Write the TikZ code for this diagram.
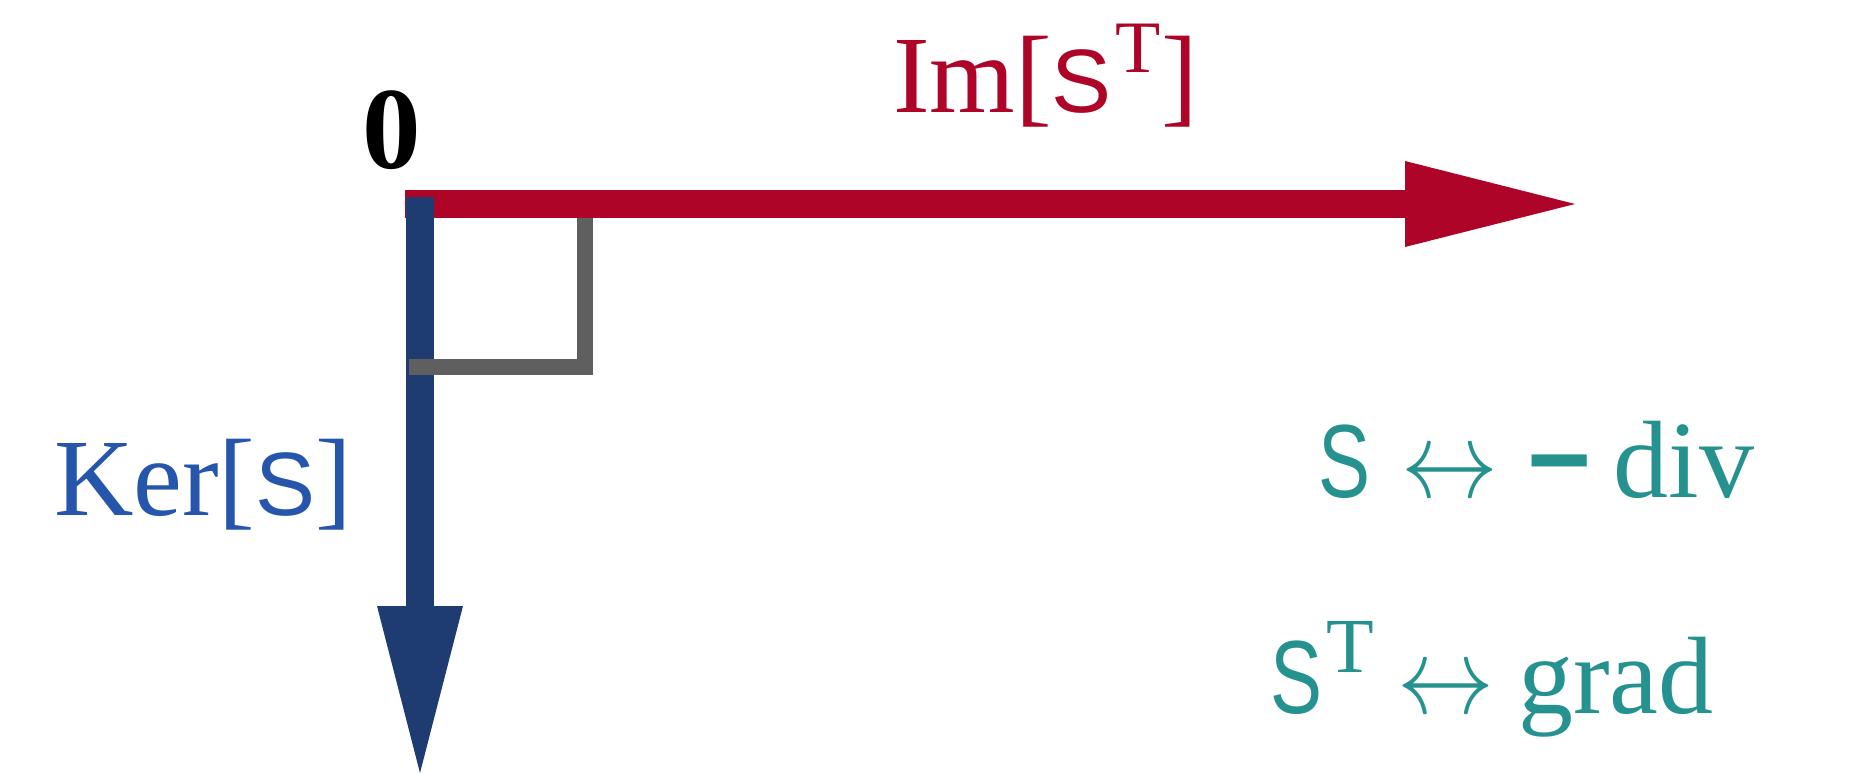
\RequirePackage{fix-cm}
\documentclass[tikz,border=0pt]{standalone}
\usepackage{fontspec}
\setmainfont{Liberation Serif}
\newfontfamily\sansS{Liberation Sans}
\newfontfamily\narrowS[FakeStretch=0.75]{Liberation Sans}
\usetikzlibrary{arrows.meta}
\definecolor{imred}{HTML}{AD0428}
\definecolor{kerblue}{HTML}{1E3C72}
\definecolor{kertext}{HTML}{2656AC}
\definecolor{tealtext}{HTML}{25928F}
\definecolor{anglegray}{HTML}{5F5F5F}
\newcommand{\bigfont}{\fontsize{110}{110}\selectfont}
\newcommand{\brS}{{\fontsize{90}{90}\sansS S}}
\newcommand{\supT}[2]{\raisebox{#1}{\rmfamily\fontsize{#2}{#2}\selectfont T}}
\newcommand{\lrarrow}{\scalebox{0.88}[1]{$\leftrightarrow$}}
\tikzset{
  label text/.style={anchor=base west, inner sep=0pt, outer sep=0pt, font=\bigfont},
  part text/.style={anchor=base, inner sep=0pt, outer sep=0pt, font=\bigfont, text=tealtext},
  space arrow/.style={line width=28pt},
}
\begin{document}
\begin{tikzpicture}[x=1pt,y=-1pt]
\useasboundingbox (0,0) rectangle (1850,773);
\coordinate (o) at (405,204);
\coordinate (imtip) at (1575,204);
\coordinate (kertop) at (420,197);
\coordinate (kertip) at (420,773);
\coordinate (angtop) at (585,218);
\coordinate (angleft) at (409,367);
\draw[space arrow, imred, -{Triangle[length=170pt,width=86pt,line width=0pt]}] (o) -- (imtip);
\draw[space arrow, kerblue, -{Triangle[length=167pt,width=86pt,line width=0pt]}] (kertop) -- (kertip);
\draw[anglegray, line width=16pt, line join=miter] (angtop) |- (angleft);
\node[label text, font=\fontsize{117}{117}\selectfont\bfseries] (zero) at (362,168) {0};
\node[label text, text=imred] (im) at (893,113) {Im[\brS\hspace{4pt}\supT{40pt}{74}]};
\node[label text, text=kertext] (ker) at (54,515) {Ker[\brS]};
% S <-> -div
\node[part text] (divS) at (1344.5,497) {\narrowS\fontsize{104}{104}\selectfont S};
\node[part text] (divarrow) at (1449.5,497) {\lrarrow};
\node[part text] (divminus) at (1560,497) {\sansS\bfseries −};
\node[part text] (divword) at (1684,497) {div};
% S^T <-> grad
\node[part text, anchor=base west] (gradS) at (1270,713) {\narrowS\fontsize{104}{104}\selectfont S\hspace{4pt}\supT{41pt}{78}};
\node[part text] (gradarrow) at (1446,713) {\lrarrow};
\node[part text] (gradword) at (1616,713) {grad};
\end{tikzpicture}
\end{document}
